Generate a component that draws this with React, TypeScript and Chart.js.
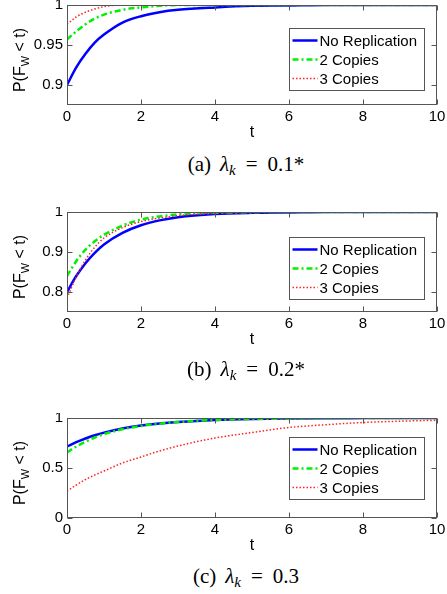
import React, { useEffect, useRef } from "react";
import { Chart, registerables } from "chart.js";
Chart.register(...registerables);

// ---------- data ----------
const tValues = [0, 0.25, 0.5, 0.75, 1, 1.5, 2, 2.5, 3, 4, 5, 6, 7, 8, 9, 10];
const xTicks = [0, 2, 4, 6, 8, 10];
const seriesNames = ["No Replication", "2 Copies", "3 Copies"];

const aNoRep = [0.9, 0.922, 0.939, 0.953, 0.963, 0.978, 0.986, 0.991, 0.994, 0.997, 0.999, 0.9995, 1, 1, 1, 1];
const aTwo = [0.957, 0.967, 0.976, 0.983, 0.988, 0.994, 0.997, 0.999, 1, 1, 1, 1, 1, 1, 1, 1];
const aThree = [0.976, 0.985, 0.991, 0.995, 0.998, 1, 1, 1, 1, 1, 1, 1, 1, 1, 1, 1];
const aYTicks = [0.9, 0.95, 1];
const aYRange = [0.875, 1];

const bNoRep = [0.8, 0.84, 0.872, 0.898, 0.919, 0.948, 0.967, 0.979, 0.987, 0.995, 0.998, 0.999, 1, 1, 1, 1];
const bTwo = [0.84, 0.877, 0.906, 0.927, 0.943, 0.966, 0.981, 0.989, 0.994, 0.998, 0.9995, 1, 1, 1, 1, 1];
const bThree = [0.785, 0.838, 0.88, 0.912, 0.935, 0.961, 0.976, 0.985, 0.991, 0.997, 0.999, 1, 1, 1, 1, 1];
const bYTicks = [0.8, 0.9, 1];
const bYRange = [0.75, 1];

const cNoRep = [0.715, 0.758, 0.795, 0.827, 0.854, 0.895, 0.924, 0.945, 0.96, 0.98, 0.99, 0.995, 0.998, 0.999, 1, 1];
const cTwo = [0.655, 0.715, 0.763, 0.805, 0.838, 0.888, 0.92, 0.943, 0.96, 0.98, 0.99, 0.995, 0.998, 0.999, 1, 1];
const cThree = [0.268, 0.33, 0.385, 0.43, 0.47, 0.55, 0.61, 0.67, 0.72, 0.8, 0.855, 0.905, 0.933, 0.955, 0.968, 0.977];
const cYTicks = [0, 0.5, 1];
const cYRange = [0, 1];

const captionLetters = ["(a)", "(b)", "(c)"];
const captionValues = ["0.1*", "0.2*", "0.3"];

// ---------- styles ----------
const SANS = '"Liberation Sans", Arial, sans-serif';
const SERIF = '"Liberation Serif", "DejaVu Serif", serif';
const FRAME = "#555555";
const W = 447;
const CANVAS_H = 150;

const lineStyles = [
  { borderColor: "#0000ff", borderWidth: 2.5, borderDash: [] as number[], order: 2 },
  { borderColor: "#00f000", borderWidth: 2.5, borderDash: [6, 3, 2, 3], order: 1 },
  { borderColor: "#ff2020", borderWidth: 1.5, borderDash: [1.5, 2], order: 0 },
];

type PanelProps = {
  top: number;
  series: number[][];
  yTicks: number[];
  yRange: number[];
  legendTop: number;
};

function Panel({ top, series, yTicks, yRange, legendTop }: PanelProps) {
  const ref = useRef<HTMLCanvasElement | null>(null);
  useEffect(() => {
    if (!ref.current) return;
    const decor = {
      id: "decor",
      afterDraw(chart: any) {
        const { ctx, chartArea: ca, scales } = chart;
        const xs = scales.x;
        const ys = scales.y;
        ctx.save();
        // frame
        ctx.strokeStyle = FRAME;
        ctx.lineWidth = 1;
        const L = Math.round(ca.left) + 0.5;
        const T = Math.round(ca.top) + 0.5;
        const R = Math.round(ca.right) - 0.5;
        const B = Math.round(ca.bottom) - 0.5;
        ctx.strokeRect(L, T, R - L, B - T);
        // inner ticks
        ctx.beginPath();
        for (const v of xTicks) {
          const px = Math.round(xs.getPixelForValue(v)) + 0.5;
          ctx.moveTo(px, B);
          ctx.lineTo(px, B - 5);
          ctx.moveTo(px, T);
          ctx.lineTo(px, T + 5);
        }
        for (const v of yTicks) {
          const py = Math.round(ys.getPixelForValue(v)) + 0.5;
          ctx.moveTo(L, py);
          ctx.lineTo(L + 5, py);
          ctx.moveTo(R, py);
          ctx.lineTo(R - 5, py);
        }
        ctx.stroke();

        // legend
        const boxW = 135;
        const boxH = 62;
        const bx = Math.round(ca.right - 13 - boxW) + 0.5;
        const by = Math.round(ca.top + legendTop) + 0.5;
        ctx.fillStyle = "#ffffff";
        ctx.fillRect(bx, by, boxW, boxH);
        ctx.strokeStyle = FRAME;
        ctx.lineWidth = 1;
        ctx.strokeRect(bx, by, boxW, boxH);
        ctx.font = `15px ${SANS}`;
        ctx.textBaseline = "middle";
        ctx.textAlign = "left";
        chart.data.datasets.forEach((ds: any, i: number) => {
          const ry = by + 12 + i * 19;
          ctx.save();
          ctx.strokeStyle = ds.borderColor;
          ctx.lineWidth = ds.borderWidth;
          ctx.setLineDash(ds.borderDash || []);
          ctx.beginPath();
          ctx.moveTo(bx + 3, ry);
          ctx.lineTo(bx + 28, ry);
          ctx.stroke();
          ctx.restore();
          ctx.fillStyle = "#000";
          ctx.fillText(ds.label, bx + 30, ry + 1);
        });

        // y title  P(F_W < t)
        ctx.save();
        const cy = (ca.top + ca.bottom) / 2 + 5;
        ctx.translate(25, cy);
        ctx.rotate(-Math.PI / 2);
        ctx.textBaseline = "alphabetic";
        ctx.textAlign = "left";
        ctx.fillStyle = "#000";
        const big = `16px ${SANS}`;
        const small = `11px ${SANS}`;
        ctx.font = big;
        const w1 = ctx.measureText("P(F").width;
        const w3 = ctx.measureText(" < t)").width;
        ctx.font = small;
        const w2 = ctx.measureText("W").width;
        let x0 = -(w1 + w2 + w3) / 2;
        ctx.font = big;
        ctx.fillText("P(F", x0, 0);
        x0 += w1;
        ctx.font = small;
        ctx.fillText("W", x0, 4);
        x0 += w2;
        ctx.font = big;
        ctx.fillText(" < t)", x0, 0);
        ctx.restore();

        // x title
        ctx.font = `16px ${SANS}`;
        ctx.textAlign = "center";
        ctx.textBaseline = "middle";
        ctx.fillStyle = "#000";
        ctx.fillText("t", (ca.left + ca.right) / 2, ca.bottom + 28);
        ctx.restore();
      },
    };

    const chart = new Chart(ref.current, {
      type: "line",
      data: {
        datasets: series.map((vals, i) => ({
          label: seriesNames[i],
          data: tValues.map((t, j) => ({ x: t, y: vals[j] })),
          borderColor: lineStyles[i].borderColor,
          borderWidth: lineStyles[i].borderWidth,
          borderDash: lineStyles[i].borderDash,
          order: lineStyles[i].order,
          pointRadius: 0,
          fill: false,
          cubicInterpolationMode: "monotone",
        })),
      },
      options: {
        animation: false,
        responsive: false,
        maintainAspectRatio: false,
        devicePixelRatio: 1,
        layout: { padding: { left: 0, right: 10, top: 5, bottom: 0 } },
        plugins: { legend: { display: false }, tooltip: { enabled: false } },
        scales: {
          x: {
            type: "linear",
            min: 0,
            max: 10,
            grid: { display: false, drawTicks: false },
            border: { display: false },
            afterBuildTicks: (s: any) => {
              s.ticks = xTicks.map((v) => ({ value: v }));
            },
            afterFit: (s: any) => {
              s.height = CANVAS_H - 5 - 100;
              s.paddingLeft = 0;
              s.paddingRight = 0;
            },
            ticks: {
              padding: 3,
              color: "#000",
              font: { family: SANS, size: 15 },
              maxRotation: 0,
              autoSkip: false,
              callback: (v: any) => String(v),
            },
          },
          y: {
            type: "linear",
            min: yRange[0],
            max: yRange[1],
            grid: { display: false, drawTicks: false },
            border: { display: false },
            afterBuildTicks: (s: any) => {
              s.ticks = yTicks.map((v) => ({ value: v }));
            },
            afterFit: (s: any) => {
              s.width = 67;
              s.paddingTop = 0;
              s.paddingBottom = 0;
            },
            ticks: {
              padding: 4,
              color: "#000",
              font: { family: SANS, size: 15 },
              autoSkip: false,
              callback: (v: any) => String(v),
            },
          },
        },
      },
      plugins: [decor],
    } as any);
    return () => chart.destroy();
  }, []);
  return (
    <canvas
      ref={ref}
      width={W}
      height={CANVAS_H}
      style={{ position: "absolute", left: 0, top, width: W, height: CANVAS_H }}
    />
  );
}

function Caption({ cy, letter, value }: { cy: number; letter: string; value: string }) {
  return (
    <div
      style={{
        position: "absolute",
        left: 246,
        top: cy,
        transform: "translate(-50%, -50%)",
        fontFamily: SERIF,
        fontSize: 21,
        lineHeight: "26px",
        whiteSpace: "nowrap",
        color: "#000",
      }}
    >
      <span>{letter}</span>
      <span style={{ marginLeft: 9, fontStyle: "italic" }}>λ</span>
      <span style={{ fontStyle: "italic", fontSize: 15, position: "relative", top: 4 }}>k</span>
      <span style={{ margin: "0 10px" }}>=</span>
      <span>{value}</span>
    </div>
  );
}

export default function App() {
  return (
    <div
      style={{
        position: "absolute",
        left: 0,
        top: 0,
        width: W,
        height: 594,
        background: "#fff",
        overflow: "hidden",
      }}
    >
      <Panel top={0} series={[aNoRep, aTwo, aThree]} yTicks={aYTicks} yRange={aYRange} legendTop={23} />
      <Caption cy={165} letter={captionLetters[0]} value={captionValues[0]} />
      <Panel top={207} series={[bNoRep, bTwo, bThree]} yTicks={bYTicks} yRange={bYRange} legendTop={25} />
      <Caption cy={370} letter={captionLetters[1]} value={captionValues[1]} />
      <Panel top={413} series={[cNoRep, cTwo, cThree]} yTicks={cYTicks} yRange={cYRange} legendTop={19} />
      <Caption cy={577} letter={captionLetters[2]} value={captionValues[2]} />
    </div>
  );
}
